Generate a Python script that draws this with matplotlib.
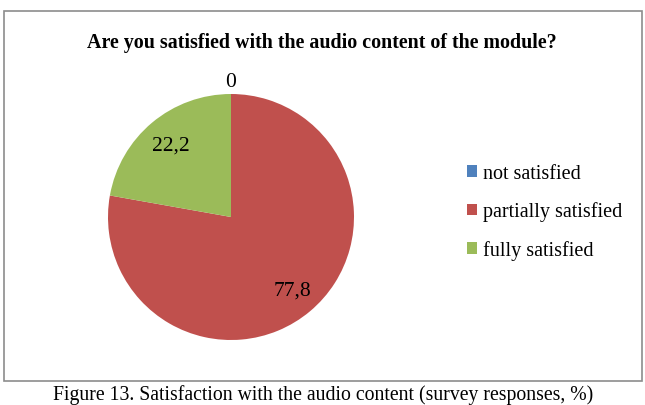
import matplotlib
matplotlib.use("Agg")
import matplotlib.pyplot as plt
from matplotlib.patches import Rectangle
import numpy as np

categories = ["not satisfied", "partially satisfied", "fully satisfied"]
values = [0, 77.8, 22.2]
colors = ["#4F81BD", "#C0504D", "#9BBB59"]
title = "Are you satisfied with the audio content of the module?"
caption = "Figure 13. Satisfaction with the audio content (survey responses, %)"

plt.rcParams['font.family'] = ['Liberation Serif', 'DejaVu Serif']

W, H = 645, 406
fig = plt.figure(figsize=(W / 100, H / 100), dpi=100)

# chart border
fig.patches.append(Rectangle((4 / W, 1 - 382 / H), 638 / W, 370 / H,
                             transform=fig.transFigure, fill=False,
                             edgecolor="#8c8c8c", linewidth=1.2))

cx, cy, r = 231, 218, 123
ax = fig.add_axes([(cx - r) / W, 1 - (cy + r) / H, 2 * r / W, 2 * r / H])
wedges, _ = ax.pie(values, colors=colors, startangle=90, counterclock=False,
                   radius=1.0, wedgeprops=dict(linewidth=0))
ax.set_xlim(-1, 1)
ax.set_ylim(-1, 1)
ax.set_aspect('auto')
ax.axis('off')

dists = [1.1, 0.78, 0.76]
for w, v, d in zip(wedges, values, dists):
    ang = np.deg2rad((w.theta1 + w.theta2) / 2)
    if v == 0:
        ang = np.deg2rad(w.theta1)
    label = f"{v:g}".replace('.', ',')
    ax.text(d * np.cos(ang), d * np.sin(ang), label, ha='center', va='center',
            fontsize=15.5, color='black', clip_on=False)

fig.text(322 / W, 1 - 43 / H, title, ha='center', va='center',
         fontsize=14.4, fontweight='bold')

handles = [Rectangle((0, 0), 1, 1, facecolor=c, edgecolor='none') for c in colors]
fig.legend(handles, categories, loc='center left',
           bbox_to_anchor=(457 / W, 1 - 213 / H), frameon=False,
           fontsize=14.5, handlelength=0.5, handleheight=0.5,
           handletextpad=0.3, labelspacing=0.92, borderpad=0)

fig.text(323 / W, 1 - 395 / H, caption, ha='center', va='center', fontsize=14.2)

fig.savefig("out.png", dpi=100)
